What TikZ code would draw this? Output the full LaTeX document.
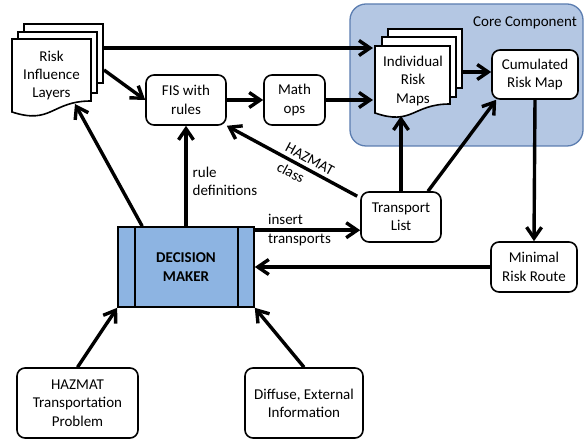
\documentclass[tikz,border=0pt]{standalone}
\usepackage{fontspec}
\setmainfont{Carlito}
\usetikzlibrary{arrows.meta,calc}
\definecolor{corefill}{HTML}{B4C7E3}
\definecolor{coreline}{HTML}{5B7DB0}
\definecolor{dmfill}{HTML}{8DB4E2}
\begin{document}
\begin{tikzpicture}[x=1pt,y=-1pt,
  every node/.style={font=\fontsize{15}{18.3}\selectfont},
  box/.style={draw, line width=1.6pt, rounded corners=8pt, fill=white, align=center, inner sep=0pt},
  page/.style={draw, line width=1.6pt, fill=white, line join=miter},
  arr/.style={line width=3.4pt, -{Straight Barb[length=11pt,width=15pt]}},
  arrback/.style={line width=3.4pt, {Straight Barb[length=11pt,width=15pt]}-},
  lbl/.style={align=left, inner sep=0pt}]
\useasboundingbox (0,0) rectangle (584,443);

% core component
\node[draw=coreline, fill=corefill, line width=1.3pt, rounded corners=16pt,
      minimum width=233pt, minimum height=142pt, inner sep=0pt] (core) at (466.5,75) {};
\node[anchor=base east, inner sep=0pt] (corelbl) at (577,27) {Core Component};

% risk influence layers (document stack)
\draw[page] (24,24) rectangle (103,83);
\draw[page] (18,32) rectangle (97,93);
\draw[page] (12,39) -- (91,39) -- (91,101) .. controls (51.5,101) and (51.5,125) .. (12,112) -- cycle;
\node[align=center, inner sep=0pt] (ril) at (51.5,75.5) {Risk\\Influence\\Layers};

% individual risk maps (document stack)
\draw[page] (388,29) rectangle (462,88);
\draw[page] (382,37) rectangle (456,97);
\draw[page] (375,46) -- (450,46) -- (450,104) .. controls (412.5,104) and (412.5,126) .. (375,113) -- cycle;
\node[align=center, inner sep=0pt] (irm) at (413,81) {Individual\\Risk\\Maps};

% boxes
\node[box, minimum width=80pt, minimum height=50pt] (fis) at (186,100) {FIS with\\rules};
\node[box, minimum width=61pt, minimum height=50pt] (math) at (294.5,100) {Math\\ops};
\node[box, minimum width=86pt, minimum height=49pt] (cum) at (535,74.5) {Cumulated\\Risk Map};
\node[box, minimum width=80pt, minimum height=50pt] (tl) at (401,217) {Transport\\List};
\node[box, minimum width=86pt, minimum height=50pt] (mrr) at (534,267) {Minimal\\Risk Route};
\node[draw, line width=1.6pt, fill=dmfill, minimum width=136pt, minimum height=80pt, align=center,
      inner sep=0pt, font=\fontsize{15}{18.3}\selectfont\bfseries] (dm) at (186,267) {DECISION\\MAKER};
\draw[line width=1.6pt] ($(dm.north west)+(18,0)$) -- ($(dm.south west)+(18,0)$);
\draw[line width=1.6pt] ($(dm.north east)+(-17,0)$) -- ($(dm.south east)+(-17,0)$);
\node[box, minimum width=121pt, minimum height=70pt] (haz) at (77.5,403) {HAZMAT\\Transportation\\Problem};
\node[box, minimum width=118pt, minimum height=70pt] (dif) at (304,403) {Diffuse, External\\Information};

% connector end points on the document stacks
\coordinate (rilA) at (103,48);
\coordinate (irmA) at (373,48);
\coordinate (rilB) at (104,70);
\coordinate (irmB) at (373,100);
\coordinate (irmC) at (462,72);
\coordinate (irmD) at (401,116);
\coordinate (rilC) at (75,104);
\coordinate (dmA) at ($(dm.north east)+(0,4)$);
\coordinate (tlA) at ($(tl.north west)+(-3,5)$);

% connectors
\draw[arr] (rilA) -- (irmA);
\draw[arr] (rilB) -- (fis.west);
\draw[arr] (fis.east) -- (math.west);
\draw[arr] (math.east) -- (irmB);
\draw[arr] (irmC) -- (irmC -| cum.west);
\draw[arr] (tl.north) -- (irmD);
\draw[arr] ($(tl.north)+(27,0)$) -- ($(cum.south west)+(5,0)$);
\draw[arrback] (fis.south east) --
   node[sloped, above, pos=0.60, inner sep=3.5pt] {HAZMAT}
   node[sloped, below, pos=0.53, inner sep=3.5pt] {class} (tlA);
\draw[arr] (cum.south) -- (mrr.north);
\draw[arr] (mrr.west) -- (dm.east);
\draw[arr] (dmA) -- node[lbl, pos=0.11, anchor=west] {insert\\transports} (dmA -| tl.west);
\draw[arr] (dm.north) -- node[lbl, pos=0.45, anchor=west, xshift=5pt] {rule\\definitions} (fis.south);
\draw[arr] ($(dm.north west)+(25,0)$) -- (rilC);
\draw[arr] (haz.north) -- (dm.south west);
\draw[arr] (dif.north) -- (dm.south east);
\end{tikzpicture}
\end{document}
